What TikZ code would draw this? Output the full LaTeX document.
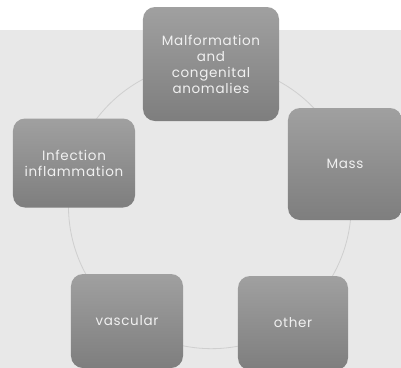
\documentclass[tikz,border=0pt]{standalone}
\usepackage{fontspec}
\setmainfont{Poppins}[LetterSpace=5]
\usetikzlibrary{backgrounds}
\definecolor{bgband}{HTML}{E8E8E8}
\definecolor{boxtop}{HTML}{A0A0A0}
\definecolor{boxbot}{HTML}{7E7E7E}
\definecolor{ringc}{HTML}{CFCFCF}
\definecolor{txtc}{HTML}{F0F0F0}
\begin{document}
\begin{tikzpicture}[x=1bp,y=-1bp,
  cbox/.style={rectangle, rounded corners=12bp, top color=boxtop, bottom color=boxbot,
    draw=none, text=txtc, align=center, inner sep=0pt,
    font=\fontsize{13.5bp}{16bp}\selectfont},
  ring/.style={draw=ringc, line width=0.8bp}]
\useasboundingbox (0,0) rectangle (401,368);
\clip (0,0) rectangle (401,368);
\node[cbox, minimum width=136bp, minimum height=114bp] (top) at (211,64)
  {Malformation\\and\\congenital\\anomalies};
\node[cbox, minimum width=114bp, minimum height=112bp] (mass) at (345,164) {Mass};
\node[cbox, minimum width=110bp, minimum height=94bp] (other) at (293,323) {other};
\node[cbox, minimum width=112bp, minimum height=94bp] (vasc) at (127,321) {vascular};
\node[cbox, minimum width=122bp, minimum height=89bp] (infl) at (74,163)
  {Infection\\inflammation};
\begin{scope}[on background layer]
\fill[white] (0,0) rectangle (401,30);
\fill[bgband] (0,30) rectangle (401,368);
\draw[ring] (top.center) arc[start angle=-90, end angle=-17, radius=142];
\draw[ring] (mass.center) arc[start angle=-17, end angle=55, radius=142];
\draw[ring] (other.center) arc[start angle=55, end angle=126, radius=142];
\draw[ring] (vasc.center) arc[start angle=126, end angle=197, radius=142];
\draw[ring] (infl.center) arc[start angle=197, end angle=270, radius=142];
\end{scope}
\end{tikzpicture}
\end{document}
